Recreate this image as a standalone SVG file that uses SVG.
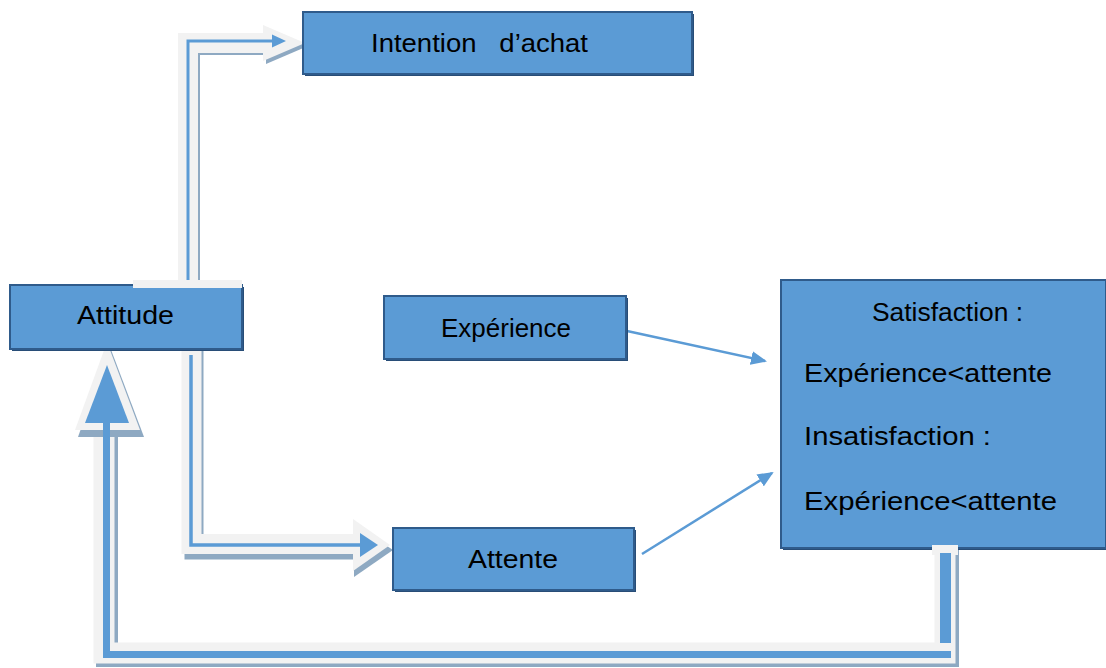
<svg xmlns="http://www.w3.org/2000/svg" width="1106" height="668" viewBox="0 0 1106 668">
  <style>
    .box { fill: #5b9bd5; stroke: #2f5b8b; stroke-width: 2; }
    .boxshadow { fill: #284d77; }
    .lbl { font-family: "Liberation Sans", Arial, sans-serif; font-size: 26px; fill: #000; }
    .band { fill: none; stroke: #f2f2f2; stroke-linejoin: miter; }
    .shade { fill: none; stroke: #8ea9c2; stroke-linejoin: miter; }
    .core { fill: none; stroke: #5b9bd5; stroke-linejoin: miter; }
    .headband { fill: #f2f2f2; }
    .headshade { fill: #8ea9c2; }
    .headcore { fill: #5b9bd5; }
    .thin { fill: none; stroke: #5b9bd5; stroke-width: 2.5; }
  </style>
  <defs>
    <marker id="tip" markerWidth="16" markerHeight="14" refX="14" refY="7" orient="auto" markerUnits="userSpaceOnUse" viewBox="0 0 16 14">
      <path d="M0,0 L16,7 L0,14 Z" fill="#5b9bd5"/>
    </marker>
  </defs>

  <!-- connectors -->
  <g id="connectors">
    <!-- Attitude up to Intention d'achat -->
    <g id="link-attitude-intention">
      <path class="shade" d="M191,290 V46 H266" stroke-width="18"/>
      <polygon class="headshade" points="266,28 308,46 266,64"/>
      <path class="band" d="M188,290 V43 H264" stroke-width="20"/>
      <polygon class="headband" points="263,25 305,43 263,61"/>
      <path class="core" d="M188,283 V41 H274" stroke-width="3"/>
      <polygon class="headcore" points="272,34.5 286,41 272,47.5"/>
      <!-- cap over the top edge of Attitude -->
      <rect x="136" y="286" width="107" height="6" fill="#8ea9c2"/>
      <rect x="133" y="280" width="109" height="8" fill="#f2f2f2"/>
    </g>

    <!-- Attitude down to Attente -->
    <g id="link-attitude-attente">
      <path class="shade" d="M194,350 V550 H354" stroke-width="19"/>
      <polygon class="headshade" points="354,524 393,550 354,577"/>
      <path class="band" d="M191.5,350 V544 H354" stroke-width="20"/>
      <polygon class="headband" points="353,519 390,545 353,571"/>
      <path class="core" d="M191,355 V545 H362" stroke-width="3.5"/>
      <polygon class="headcore" points="360,533 378,545 360,557"/>
    </g>

    <!-- Satisfaction box back to Attitude -->
    <g id="link-satisfaction-attitude">
      <path class="shade" d="M948,548 V656 H107 V437" stroke-width="22"/>
      <path class="band" d="M945,545 V653 H104 V430" stroke-width="21"/>
      <polygon class="headshade" points="110,347 144,437 78,437"/>
      <polygon class="headband" points="107,342 140,430 75,430"/>
      <path class="core" d="M945.5,553 V643" stroke-width="11"/>
      <path class="core" d="M951,654.5 H103" stroke-width="7"/>
      <path class="core" d="M106.5,658 V420" stroke-width="7"/>
      <polygon class="headcore" points="107,365 129,423 85,423"/>
    </g>

    <!-- thin arrows into the Satisfaction box -->
    <line class="thin" x1="627" y1="331" x2="765" y2="361" marker-end="url(#tip)"/>
    <line class="thin" x1="642" y1="554" x2="772" y2="473" marker-end="url(#tip)"/>
  </g>

  <!-- nodes -->
  <g id="node-intention">
    <rect class="boxshadow" x="305" y="14" width="389" height="62"/>
    <rect class="box" x="303" y="12" width="389" height="62"/>
    <text class="lbl" x="371" y="52" textLength="217" lengthAdjust="spacingAndGlyphs" xml:space="preserve">Intention   d’achat</text>
  </g>

  <g id="node-attitude">
    <rect class="boxshadow" x="12" y="287" width="232" height="64"/>
    <rect class="box" x="10" y="285" width="232" height="64"/>
    <rect x="133" y="280" width="109" height="8" fill="#f2f2f2"/>
    <text class="lbl" x="77" y="324" textLength="97" lengthAdjust="spacingAndGlyphs">Attitude</text>
  </g>

  <g id="node-experience">
    <rect class="boxshadow" x="386" y="298" width="242" height="63"/>
    <rect class="box" x="384" y="296" width="242" height="63"/>
    <text class="lbl" x="441" y="337" textLength="130" lengthAdjust="spacingAndGlyphs">Expérience</text>
  </g>

  <g id="node-attente">
    <rect class="boxshadow" x="395" y="530" width="241" height="62"/>
    <rect class="box" x="393" y="528" width="241" height="62"/>
    <text class="lbl" x="468" y="568" textLength="90" lengthAdjust="spacingAndGlyphs">Attente</text>
  </g>

  <g id="node-satisfaction">
    <rect class="boxshadow" x="783" y="282" width="325" height="268"/>
    <rect class="box" x="781" y="280" width="325" height="268"/>
    <text class="lbl" x="872" y="321" textLength="151" lengthAdjust="spacingAndGlyphs">Satisfaction :</text>
    <text class="lbl" x="804" y="382" textLength="248" lengthAdjust="spacingAndGlyphs">Expérience&lt;attente</text>
    <text class="lbl" x="804" y="445" textLength="187" lengthAdjust="spacingAndGlyphs">Insatisfaction :</text>
    <text class="lbl" x="804" y="510" textLength="253" lengthAdjust="spacingAndGlyphs">Expérience&lt;attente</text>
  </g>

  <!-- stub of the return connector drawn over the Satisfaction box edge -->
  <g id="return-stub">
    <rect x="932" y="545" width="26" height="10" fill="#f2f2f2"/>
    <rect x="940" y="553" width="11" height="4" fill="#5b9bd5"/>
  </g>
</svg>
